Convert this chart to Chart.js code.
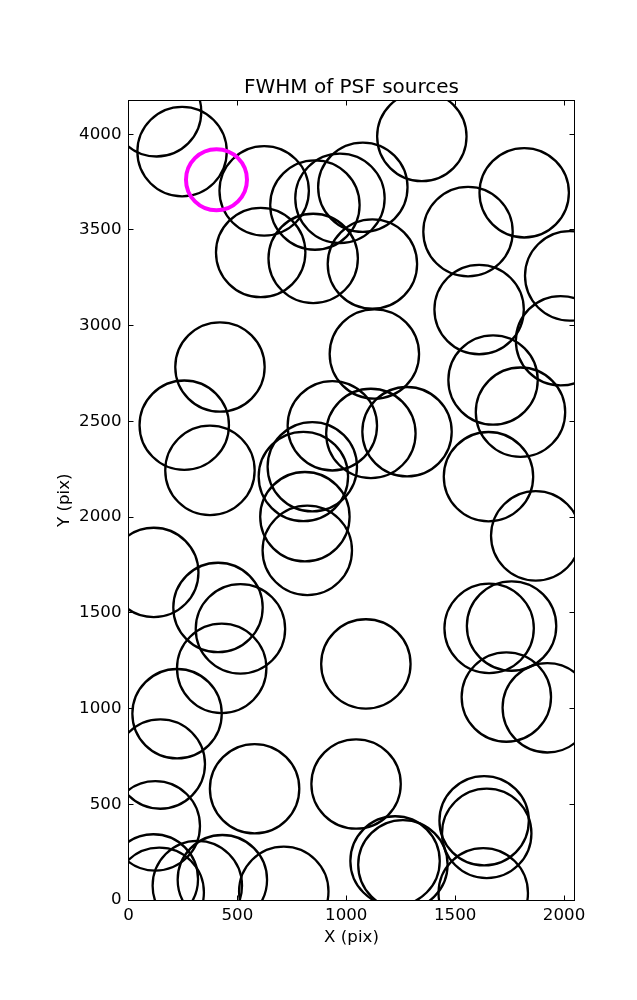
<!DOCTYPE html>
<html>
<head>
<meta charset="utf-8">
<script src="https://cdn.jsdelivr.net/npm/chart.js@4.4.1/dist/chart.umd.min.js"></script>
<style>
html,body{margin:0;padding:0;background:#fff;}
canvas{display:block;}
</style>
</head>
<body>
<canvas id="c" width="637" height="1000"></canvas>
<script>
// Source positions (pix)
const sourceX = [129, 246, 623, 607, 856, 848, 971, 1076, 1120, 420, 1129, 1347, 1817, 1559, 2026, 1610, 1984, 1674, 1800,
  256, 374, 936, 1113, 1279, 803, 844, 810, 821, 1653, 1870, 116, 411, 514, 428, 1656, 1759, 1090, 1735, 1923,
  223, 146, 579, 1045, 123, 1633, 1645, 1224, 1260, 1629, 114, 141, 316, 431, 713];
const sourceY = [4117, 3909, 3704, 3382, 3630, 3351, 3665, 3723, 3322, 2784, 2852, 3988, 3694, 3491, 3260, 3084, 2921, 2716, 2548,
  2480, 2244, 2477, 2437, 2446, 2212, 2263, 2002, 1826, 2211, 1902, 1711, 1528, 1416, 1210, 1419, 1431, 1233, 1060, 1004,
  973, 710, 581, 606, 387, 414, 348, 204, 184, 37, 110, 40, 75, 106, 45];
// Highlighted source
const markedX = [404];
const markedY = [3762];
// Axis ticks and ranges
const xTicks = [0, 500, 1000, 1500, 2000];
const yTicks = [0, 500, 1000, 1500, 2000, 2500, 3000, 3500, 4000];
const xRange = [0, 2048];
const yRange = [0, 4176];
const chartTitle = 'FWHM of PSF sources';

const FONT = "'DejaVu Sans', 'Bitstream Vera Sans', sans-serif";

const toPoints = (xs, ys) => xs.map((x, i) => ({x: x, y: ys[i]}));

const framePlugin = {
  id: 'frame',
  afterDatasetsDraw(chart) {
    const ctx = chart.ctx;
    const a = chart.chartArea;
    const xs = chart.scales.x, ys = chart.scales.y;
    const L = Math.floor(a.left) + 0.5, R = Math.floor(a.right) + 0.5;
    const T = Math.floor(a.top) + 0.5, B = Math.floor(a.bottom) + 0.5;
    const len = 5;
    ctx.save();
    ctx.strokeStyle = '#000';
    ctx.lineWidth = 1;
    ctx.beginPath();
    xs.ticks.forEach(t => {
      const p = Math.floor(xs.getPixelForValue(t.value)) + 0.5;
      ctx.moveTo(p, B); ctx.lineTo(p, B - len);
      ctx.moveTo(p, T); ctx.lineTo(p, T + len);
    });
    ys.ticks.forEach(t => {
      const p = Math.floor(ys.getPixelForValue(t.value)) + 0.5;
      ctx.moveTo(L, p); ctx.lineTo(L + len, p);
      ctx.moveTo(R, p); ctx.lineTo(R - len, p);
    });
    ctx.stroke();
    ctx.strokeRect(L, T, R - L, B - T);
    // title centred over the plot area
    ctx.fillStyle = '#000';
    ctx.font = '20px ' + FONT;
    ctx.textAlign = 'center';
    ctx.textBaseline = 'alphabetic';
    ctx.fillText(chartTitle, (a.left + a.right) / 2, 93);
    ctx.restore();
  }
};

new Chart(document.getElementById('c'), {
  type: 'scatter',
  data: {
    datasets: [
      {
        label: 'marked',
        data: toPoints(markedX, markedY),
        pointRadius: 30.5,
        pointHoverRadius: 30.5,
        pointBorderWidth: 4,
        pointBorderColor: '#ff00ff',
        pointBackgroundColor: 'rgba(0,0,0,0)',
        clip: 0,
        order: 0
      },
      {
        label: 'sources',
        data: toPoints(sourceX, sourceY),
        pointRadius: 44.7,
        pointHoverRadius: 44.7,
        pointBorderWidth: 2.3,
        pointBorderColor: '#000000',
        pointBackgroundColor: 'rgba(0,0,0,0)',
        clip: 0,
        order: 1
      }
    ]
  },
  options: {
    responsive: false,
    animation: false,
    events: [],
    devicePixelRatio: 1,
    layout: {padding: {left: 0, right: 62.5, top: 100.5, bottom: 0}},
    plugins: {
      legend: {display: false},
      tooltip: {enabled: false},
      title: {display: false}
    },
    scales: {
      x: {
        type: 'linear',
        min: xRange[0], max: xRange[1],
        grid: {display: false, drawTicks: false},
        border: {display: false},
        afterBuildTicks: s => { s.ticks = xTicks.map(v => ({value: v})); },
        afterFit: s => { s.height = 100; },
        ticks: {
          color: '#000', font: {family: FONT, size: 16.67},
          padding: 6, maxRotation: 0, autoSkip: false,
          callback: v => String(v)
        },
        title: {
          display: true, text: 'X (pix)', color: '#000',
          font: {family: FONT, size: 16.67, lineHeight: 1.2},
          padding: {top: 0, bottom: 52.5}
        }
      },
      y: {
        type: 'linear',
        min: yRange[0], max: yRange[1],
        grid: {display: false, drawTicks: false},
        border: {display: false},
        afterBuildTicks: s => { s.ticks = yTicks.map(v => ({value: v})); },
        afterFit: s => { s.width = 128.5; },
        ticks: {
          color: '#000', font: {family: FONT, size: 16.67},
          padding: 7, autoSkip: false,
          callback: v => String(v)
        },
        title: {
          display: true, text: 'Y (pix)', color: '#000',
          font: {family: FONT, size: 16.67, lineHeight: 1.2},
          padding: {top: 54.5, bottom: 0}
        }
      }
    }
  },
  plugins: [framePlugin]
});
</script>
</body>
</html>
